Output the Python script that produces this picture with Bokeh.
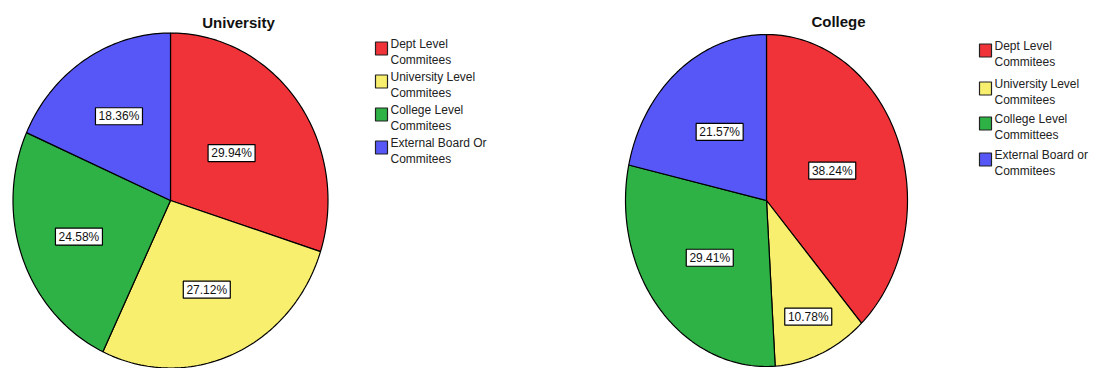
import numpy as np
from bokeh.plotting import figure
from bokeh.models import Range1d, ColumnDataSource
from bokeh.core.properties import value
from bokeh.embed import file_html
from bokeh.resources import INLINE

# ---------------- data ----------------
university_labels = ["Dept Level\nCommitees", "University Level\nCommitees",
                     "College Level\nCommitees", "External Board Or\nCommitees"]
college_labels = ["Dept Level\nCommitees", "University Level\nCommitees",
                  "College Level\nCommittees", "External Board or\nCommitees"]
university_pct = [29.94, 27.12, 24.58, 18.36]
college_pct = [38.24, 10.78, 29.41, 21.57]
titles = ["University", "College"]

# ---------------- styles / layout ----------------
colors = ["#EF3339", "#F9EF6E", "#2EB245", "#5757F7"]
FONT = "Liberation Sans"

# pixel-like layout (data space == reference pixel space)
pies = [
    dict(cx=170, cy=200, rx=157.5, ry=167.5, label_frac=[0.48, 0.58, 0.62, 0.60],
         title_x=238, title_y=22, leg_x=381, leg_y=[48, 81, 114, 147]),
    dict(cx=766, cy=200, rx=141, ry=166, label_frac=[0.50, 0.76, 0.53, 0.53],
         title_x=838, title_y=21, leg_x=985, leg_y=[50, 88, 123, 159]),
]

W, H = 1097, 368
p = figure(width=W, height=H, output_backend="svg", toolbar_location=None,
           x_range=Range1d(0, W), y_range=Range1d(H, 0),
           min_border=0, background_fill_color="white", border_fill_color="white")
p.axis.visible = False
p.grid.visible = False
p.outline_line_color = None

for pie, pcts, labels, title in zip(pies, [university_pct, college_pct],
                                     [university_labels, college_labels], titles):
    cx, cy, rx, ry = pie["cx"], pie["cy"], pie["rx"], pie["ry"]
    xs, ys, lx, ly, txt = [], [], [], [], []
    start = 0.0
    for v, f in zip(pcts, pie["label_frac"]):
        t0 = start / 100 * 2 * np.pi
        t1 = (start + v) / 100 * 2 * np.pi
        ts = np.linspace(t0, t1, max(3, int(v * 3)))
        xs.append([cx] + list(cx + rx * np.sin(ts)))
        ys.append([cy] + list(cy - ry * np.cos(ts)))
        m = (t0 + t1) / 2
        lx.append(cx + f * rx * np.sin(m))
        ly.append(cy - f * ry * np.cos(m))
        txt.append(f"{v:.2f}%")
        start += v
    src = ColumnDataSource(dict(xs=xs, ys=ys, color=colors))
    p.patches("xs", "ys", fill_color="color", line_color="black", line_width=1.2,
              source=src)

    lsrc = ColumnDataSource(dict(x=lx, y=ly, text=txt))
    p.rect("x", "y", width=47, height=17, width_units="screen", height_units="screen",
           fill_color="white", line_color="black", line_width=1.2, source=lsrc)
    p.text("x", "y", text="text", text_align="center", text_baseline="middle",
           text_font=value(FONT), text_font_size="12px", text_color="#111111",
           source=lsrc)

    # title
    p.text(x=[pie["title_x"]], y=[pie["title_y"]], text=[title], text_align="center",
           text_baseline="middle", text_font=value(FONT), text_font_size="15px",
           text_font_style="bold", text_color="#111111")

    # legend
    gsrc = ColumnDataSource(dict(x=[pie["leg_x"]] * 4, y=pie["leg_y"], color=colors,
                                 tx=[pie["leg_x"] + 9] * 4,
                                 ty=[yy - 12 for yy in pie["leg_y"]], text=labels))
    p.rect("x", "y", width=12, height=13, width_units="screen", height_units="screen",
           fill_color="color", line_color="#222222", line_width=1.2, source=gsrc)
    p.text("tx", "ty", text="text", text_align="left", text_baseline="top",
           text_font=value(FONT), text_font_size="12px", text_color="#222222",
           text_line_height=1.2, source=gsrc)

open("out.html", "w").write(file_html(p, INLINE))
